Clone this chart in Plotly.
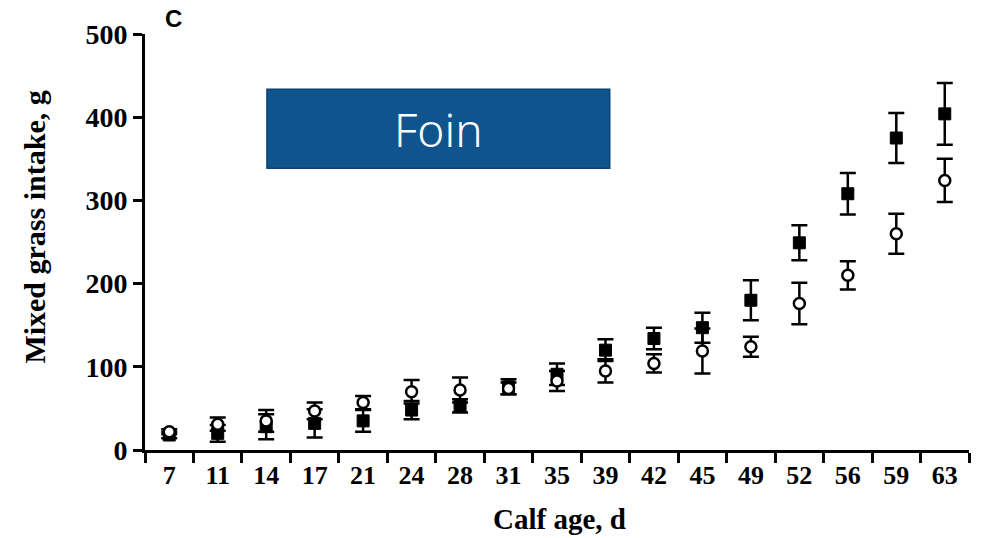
import plotly.graph_objects as go

# Calf age (days) used as category labels
ages = ["7", "11", "14", "17", "21", "24", "28", "31", "35",
        "39", "42", "45", "49", "52", "56", "59", "63"]

# Group shown with filled squares: mean and SE of mixed grass intake (g)
square_mean = [18, 20, 28, 32, 35, 48, 53, 76, 91, 120, 134, 147, 180, 249, 308, 375, 404]
square_err = [4, 10, 15, 17, 13, 11, 8, 9, 13, 13, 13, 18, 24, 21, 25, 30, 37]

# Group shown with open circles
circle_mean = [22, 31, 35, 47, 57, 70, 72, 74, 83, 95, 104, 119, 124, 176, 210, 260, 324]
circle_err = [3, 8, 13, 10, 8, 14, 15, 7, 12, 14, 11, 27, 12, 25, 17, 24, 26]

serif = "Liberation Serif"

fig = go.Figure()
fig.add_trace(go.Scatter(
    x=ages, y=square_mean, mode="markers",
    marker=dict(symbol="square", size=12, color="black",
                line=dict(color="black", width=1)),
    error_y=dict(type="data", array=square_err, visible=True,
                 color="black", thickness=2.5, width=8),
    showlegend=False,
))
fig.add_trace(go.Scatter(
    x=ages, y=circle_mean, mode="markers",
    marker=dict(symbol="circle", size=11, color="white",
                line=dict(color="black", width=2.5)),
    error_y=dict(type="data", array=circle_err, visible=True,
                 color="black", thickness=2.5, width=8),
    showlegend=False,
))

fig.update_xaxes(
    type="category", categoryorder="array", categoryarray=ages,
    range=[-0.5, 16.5],
    showline=True, linecolor="black", linewidth=3,
    ticks="outside", tickson="boundaries", ticklen=10, tickwidth=2.5,
    tickcolor="black", showgrid=False, zeroline=False,
    tickfont=dict(family=serif, size=26, color="black", weight="bold"),
)
fig.update_yaxes(
    range=[0, 500], tickvals=[0, 100, 200, 300, 400, 500],
    showline=True, linecolor="black", linewidth=3,
    ticks="outside", ticklen=9, tickwidth=2.5, tickcolor="black",
    showgrid=False, zeroline=False,
    tickfont=dict(family=serif, size=28, color="black", weight="bold"),
)

# Axis titles
fig.add_annotation(
    text="Mixed grass intake, g", xref="paper", yref="paper",
    x=-0.1335, y=0.537, xanchor="center", yanchor="middle",
    textangle=-90, showarrow=False,
    font=dict(family=serif, size=30, color="black", weight="bold"),
)
fig.add_annotation(
    text="Calf age, d", xref="paper", yref="paper",
    x=0.5036, y=-0.167, xanchor="center", yanchor="middle",
    showarrow=False,
    font=dict(family=serif, size=29, color="black", weight="bold"),
)

# Panel letter
fig.add_annotation(
    text="C", xref="paper", yref="paper", x=0.0345, y=1.037,
    xanchor="center", yanchor="middle", showarrow=False,
    font=dict(family="Liberation Sans", size=24, color="black", weight="bold"),
)

# "Foin" banner
fig.add_shape(
    type="rect", xref="paper", yref="paper",
    x0=0.148, x1=0.564, y0=0.6775, y1=0.867,
    fillcolor="#0f548c", line=dict(color="#0b4372", width=1.5),
)
fig.add_annotation(
    text="Foin", xref="paper", yref="paper", x=0.356, y=0.772,
    xanchor="center", yanchor="middle", showarrow=False,
    font=dict(family="Noto Sans", size=46, color="white", weight=300),
)

fig.update_layout(
    width=984, height=538,
    margin=dict(l=145, r=15, t=33.5, b=87.5),
    plot_bgcolor="white", paper_bgcolor="white",
)

fig.write_html("out.html")
